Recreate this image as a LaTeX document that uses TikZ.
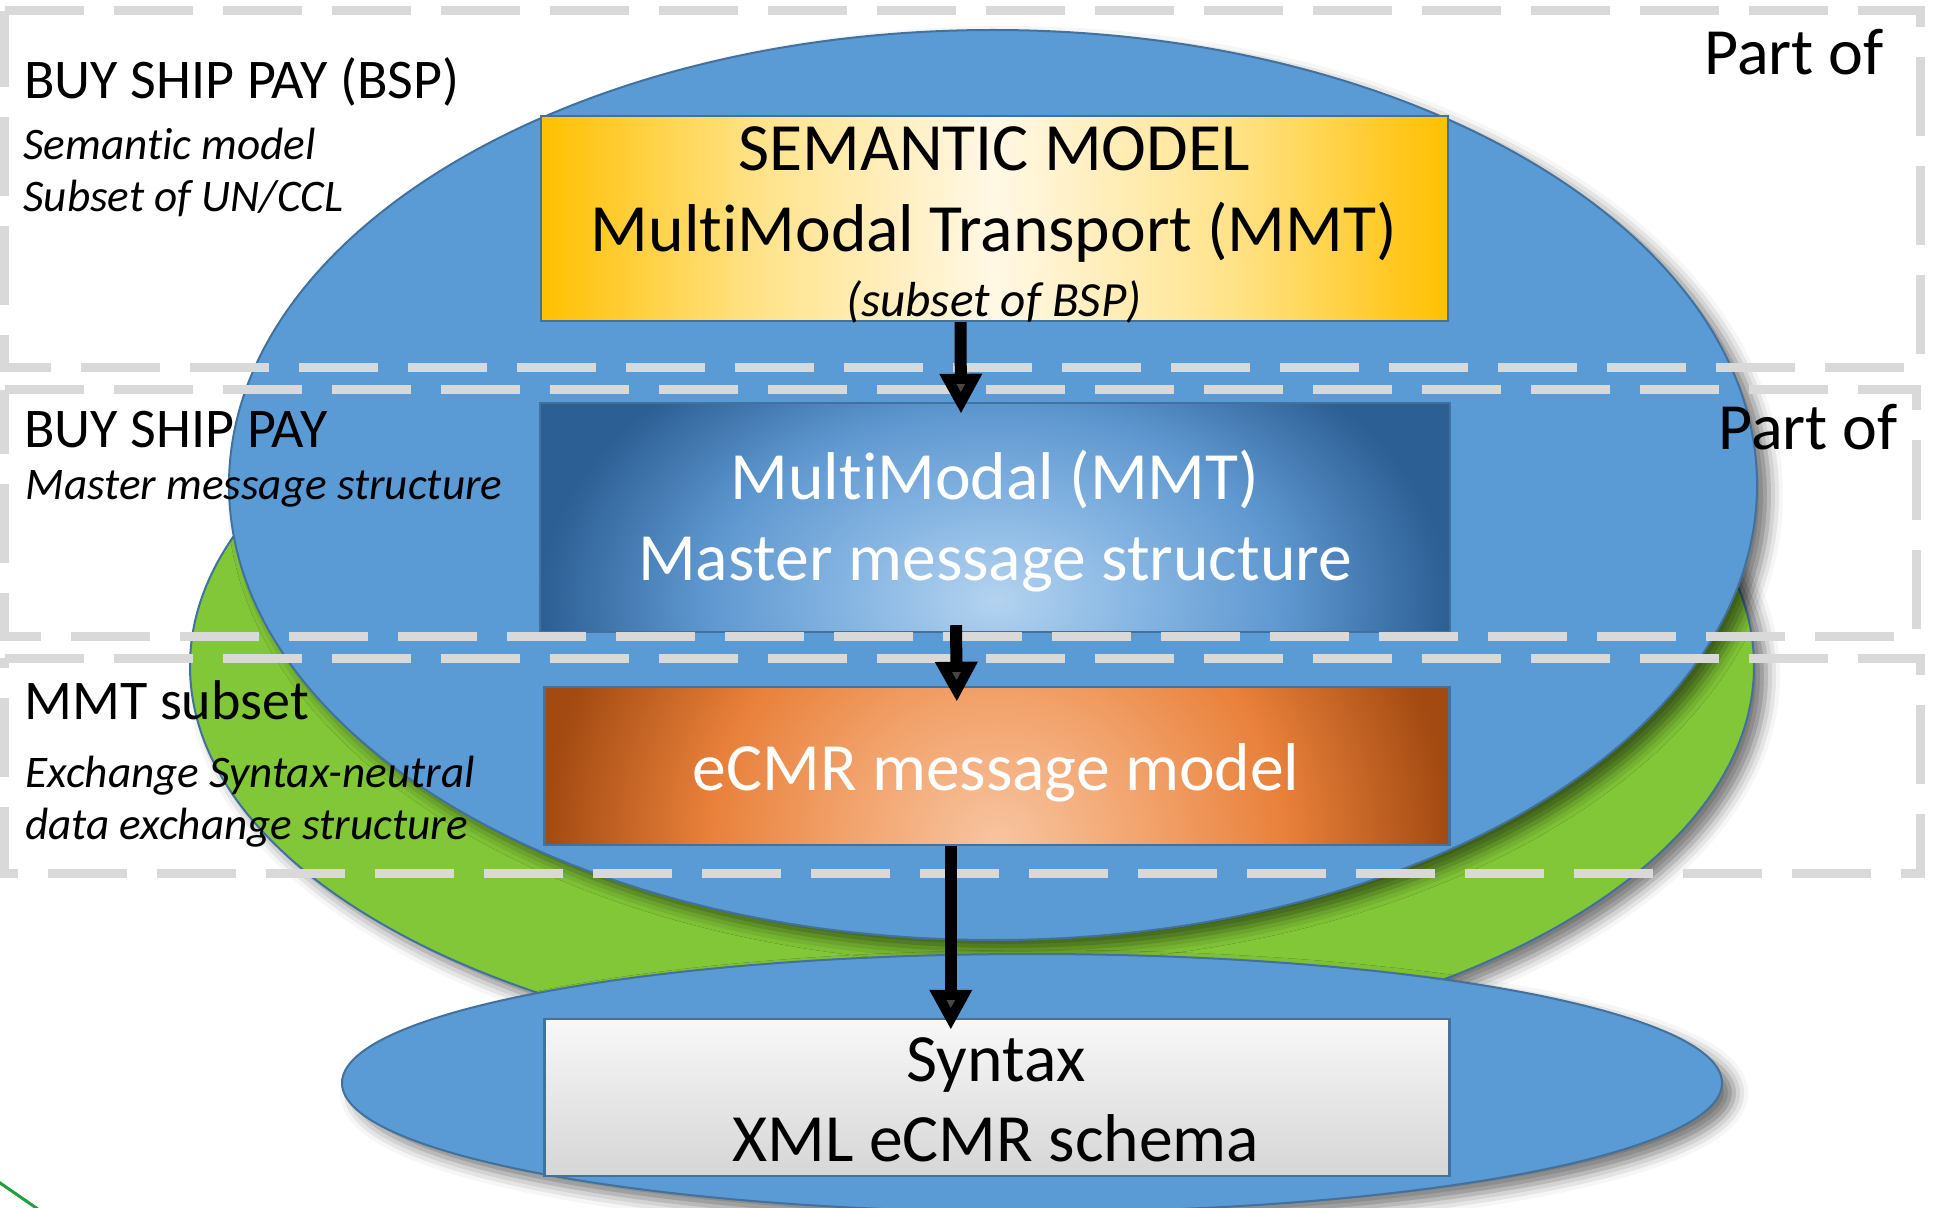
\documentclass[tikz,border=0pt]{standalone}
\usepackage{fontspec}
\setmainfont{Carlito}[Ligatures=NoCommon]
\usetikzlibrary{arrows.meta,shadows.blur}

\definecolor{bluefill}{HTML}{5B9BD5}
\definecolor{blueline}{HTML}{41719C}
\definecolor{greenfill}{HTML}{82C737}
\definecolor{dashgray}{HTML}{D9D9D9}
\definecolor{gold}{HTML}{FFC000}
\definecolor{goldlight}{HTML}{FFE38A}
\definecolor{goldpale}{HTML}{FFF8E6}
\definecolor{mmsdark}{HTML}{2C5F94}
\definecolor{mmsmid}{HTML}{5E97CF}
\definecolor{mmsmidl}{HTML}{86B5E2}
\definecolor{mmslight}{HTML}{B4D3EF}
\definecolor{ecdark}{HTML}{A24A12}
\definecolor{ecmid}{HTML}{E8803A}
\definecolor{ecmidl}{HTML}{F2A46E}
\definecolor{eclight}{HTML}{F7C4A0}
\definecolor{syntop}{HTML}{F8F8F8}
\definecolor{synbot}{HTML}{D6D6D6}
\definecolor{lineGreen}{HTML}{1F9E3C}

\pgfdeclarehorizontalshading{semshade}{100bp}{color(0bp)=(gold); color(25bp)=(gold); color(37bp)=(goldlight); color(50bp)=(goldpale); color(63bp)=(goldlight); color(75bp)=(gold); color(100bp)=(gold)}
\pgfdeclareradialshading{mmsshade}{\pgfpoint{0bp}{0bp}}{color(0bp)=(mmslight); color(8bp)=(mmsmidl); color(16bp)=(mmsmid); color(25bp)=(mmsdark); color(50bp)=(mmsdark)}
\pgfdeclareradialshading{ecshade}{\pgfpoint{0bp}{0bp}}{color(0bp)=(eclight); color(8bp)=(ecmidl); color(16bp)=(ecmid); color(25bp)=(ecdark); color(50bp)=(ecdark)}

\tikzset{
  ell/.style={draw=blueline, line width=1pt,
    blur shadow={shadow xshift=6pt, shadow yshift=-5pt, shadow blur radius=7pt, shadow opacity=55}},
  box/.style={draw=blueline, line width=1.2pt, inner sep=0pt, rectangle},
  dashbox/.style={draw=dashgray, line width=4.5pt, dash pattern=on 39.5pt off 15pt},
  lbig/.style={font=\fontsize{28pt}{32pt}\selectfont, anchor=base west, inner sep=0pt},
  lsmall/.style={font=\fontsize{22.6pt}{26pt}\selectfont\itshape, anchor=base west, inner sep=0pt},
  partof/.style={font=\fontsize{33pt}{40pt}\selectfont, anchor=base west, inner sep=0pt},
  btext/.style={font=\fontsize{33.8pt}{40pt}\selectfont, anchor=base, inner sep=0pt},
  arr/.style={line width=6pt, -{Triangle[length=20pt,width=20pt]}},
}

\begin{document}
\begin{tikzpicture}[x=0.5pt,y=-0.5pt]
\useasboundingbox (0,0) rectangle (1933,1208);

% ellipses
\path[ell, fill=greenfill] (972,666) ellipse [x radius=391pt, y radius=196.5pt];
\path[ell, fill=bluefill] (993,485) ellipse [x radius=382pt, y radius=227.5pt];
\path[ell, fill=bluefill] (1032,1083) ellipse [x radius=345pt, y radius=64.5pt];

% boxes
\node[box, shade, shading=semshade, minimum width=453.5pt, minimum height=102.5pt] (sem) at (994.5,218.5) {};
\node[box, minimum width=455pt, minimum height=114.5pt,
  path picture={\shade[shading=mmsshade] ([yshift=-132.5pt]path picture bounding box.south west) rectangle ([yshift=50pt]path picture bounding box.north east);}] (mms) at (995,517.5) {};
\node[box, minimum width=452.5pt, minimum height=79pt,
  path picture={\shade[shading=ecshade] ([yshift=-206pt]path picture bounding box.south west) rectangle ([yshift=132pt]path picture bounding box.north east);}] (ecmr) at (996.8,766) {};
\node[box, top color=syntop, bottom color=synbot, minimum width=452.5pt, minimum height=78.5pt] (syn) at (996.8,1097.5) {};

% dashed layer frames
\draw[dashbox] (4.5,10.7) -- (1920,10.7) -- (1920,368) -- (4.5,368) -- cycle;
\draw[dashbox] (4.5,390) -- (1916,390) -- (1916,636) -- (4.5,636) -- cycle;
\draw[dashbox] (4.5,658) -- (1920,658) -- (1920,873) -- (4.5,873) -- cycle;

% box texts
\node[btext] (semA) at (994,171) {SEMANTIC MODEL};
\node[btext] (semB) at (994,252) {MultiModal Transport (MMT)};
\node[btext, font=\fontsize{24.6pt}{28pt}\selectfont\itshape] (semC) at (994,317) {(subset of BSP)};
\node[btext, text=white] (mmsA) at (995,500) {MultiModal (MMT)};
\node[btext, text=white] (mmsB) at (995,580) {Master message structure};
\node[btext, text=white] (ecA) at (996,790) {eCMR message model};
\node[btext] (synA) at (996,1081) {Syntax};
\node[btext] (synB) at (996,1161) {XML eCMR schema};

% left labels
\node[lbig] (l1) at (24,99) {BUY SHIP PAY (BSP)};
\node[lsmall] (l1a) at (23,160) {Semantic model};
\node[lsmall] (l1b) at (23,212) {Subset of UN/CCL};
\node[lbig] (l2) at (24,448) {BUY SHIP PAY};
\node[lsmall] (l2a) at (25,500) {Master message structure};
\node[lbig] (l3) at (24,719) {MMT subset};
\node[lsmall] (l3a) at (25,787) {Exchange Syntax-neutral};
\node[lsmall] (l3b) at (25,839) {data exchange structure};

% right labels
\node[partof] (p1) at (1704,75) {Part of};
\node[partof] (p2) at (1718,450) {Part of};

% arrows
\draw[arr] ([xshift=-17pt]sem.south) -- ([xshift=-17pt,yshift=-6pt]mms.north);
\draw[arr] ([xshift=-19.5pt,yshift=4pt]mms.south) -- ([xshift=-20pt,yshift=-8pt]ecmr.north);
\draw[arr] ([xshift=-23pt]ecmr.south) -- ([xshift=-23pt,yshift=-6pt]syn.north);

% stray green line at bottom left
\coordinate (gl1) at (-10,1176);
\coordinate (gl2) at (45,1214);
\draw[draw=lineGreen, line width=1.5pt] (gl1) -- (gl2);
\end{tikzpicture}
\end{document}
